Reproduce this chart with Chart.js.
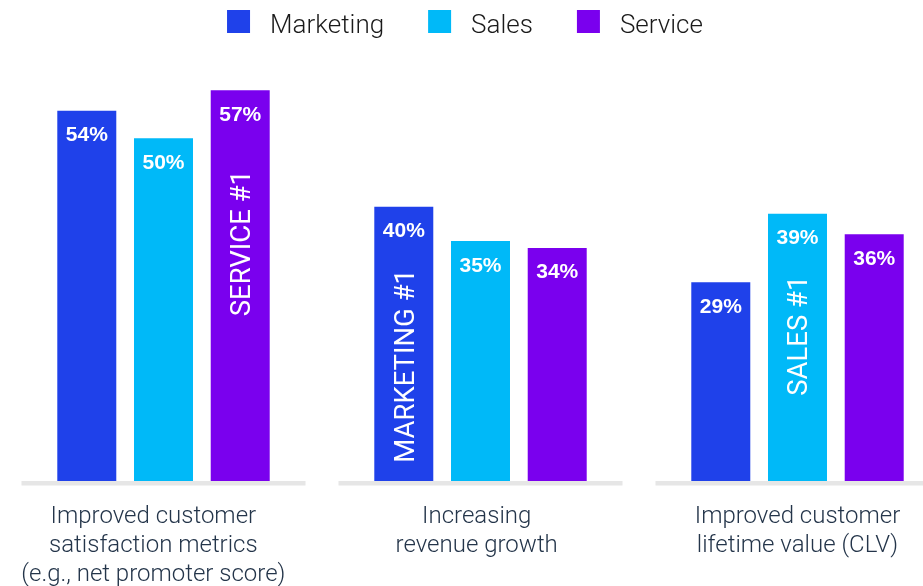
<!DOCTYPE html>
<html>
<head>
<meta charset="utf-8">
<title>Benefits by team</title>
<script src="https://cdn.jsdelivr.net/npm/chart.js@4.4.1/dist/chart.umd.min.js"></script>
<style>
  html, body { margin: 0; padding: 0; background: #fff; }
  #wrap { width: 923px; height: 586px; position: relative; }
</style>
</head>
<body>
<div id="wrap"><canvas id="benefitChart"></canvas></div>
<script>
// categories (multi-line labels) and one value list per team, in %
const categories = [
  ['Improved customer', 'satisfaction metrics', '(e.g., net promoter score)'],
  ['Increasing', 'revenue growth'],
  ['Improved customer', 'lifetime value (CLV)']
];
const seriesNames = ['Marketing', 'Sales', 'Service'];
const marketing = [54, 40, 29];
const sales = [50, 35, 39];
const service = [57, 34, 36];

const seriesValues = [marketing, sales, service];
const seriesColors = ['#1f41ea', '#00b9f8', '#7a00ee'];

// where the "#1" callout sits inside the leading bar (in % units)
const calloutMid = [34.7, 16.8, 21.2];
// small horizontal shift of each category label, in category units
const labelNudge = [-0.032, -0.012, 0];

const labelFont = '"Liberation Sans", Arial, sans-serif';

// grey baseline under each group
const baselines = {
  id: 'baselines',
  beforeDatasetsDraw(chart) {
    const { ctx, chartArea, scales } = chart;
    ctx.save();
    ctx.fillStyle = '#e6e6e6';
    categories.forEach((c, i) => {
      const a = scales.x.getPixelForValue(i - 0.448);
      const b = scales.x.getPixelForValue(i + 0.448);
      ctx.fillRect(a, chartArea.bottom, b - a, 4.5);
    });
    ctx.restore();
  }
};

// percentages at the top of each bar + rotated "#1" callouts
const barText = {
  id: 'barText',
  afterDatasetsDraw(chart) {
    const ctx = chart.ctx;
    ctx.save();
    ctx.fillStyle = '#ffffff';
    ctx.textAlign = 'center';
    ctx.textBaseline = 'alphabetic';
    ctx.font = 'bold 21px ' + labelFont;
    seriesValues.forEach((vals, s) => {
      chart.getDatasetMeta(s).data.forEach((bar, i) => {
        ctx.fillText(vals[i] + '%', bar.x, bar.y + 30.5);
      });
    });

    ctx.font = '27.5px Roboto, sans-serif';
    categories.forEach((c, i) => {
      const vals = seriesValues.map(v => v[i]);
      const s = vals.indexOf(Math.max(...vals));
      const bar = chart.getDatasetMeta(s).data[i];
      const y = chart.scales.y.getPixelForValue(calloutMid[i]);
      ctx.save();
      ctx.translate(bar.x, y);
      ctx.rotate(-Math.PI / 2);
      ctx.fillText(seriesNames[s].toUpperCase() + ' #1', 0, 9.8);
      ctx.restore();
    });
    ctx.restore();
  }
};

// legend row: square swatch + name
const legendRow = {
  id: 'legendRow',
  afterDraw(chart) {
    const { ctx, chartArea } = chart;
    const box = 23, textGap = 20, itemGap = 44;
    ctx.save();
    ctx.font = '300 26px Roboto, sans-serif';
    const widths = seriesNames.map(n => ctx.measureText(n).width);
    const total = widths.reduce((t, w) => t + box + textGap + w, 0) + itemGap * (seriesNames.length - 1);
    let x = (chartArea.left + chartArea.right) / 2 - total / 2;
    ctx.textAlign = 'left';
    ctx.textBaseline = 'alphabetic';
    seriesNames.forEach((name, s) => {
      ctx.fillStyle = seriesColors[s];
      ctx.fillRect(x, 10, box, 23);
      ctx.fillStyle = '#1a1a1a';
      ctx.fillText(name, x + box + textGap, 33);
      x += box + textGap + widths[s] + itemGap;
    });
    ctx.restore();
  }
};

new Chart(document.getElementById('benefitChart'), {
  type: 'bar',
  data: {
    datasets: seriesNames.map((name, s) => ({
      label: name,
      data: seriesValues[s].map((v, i) => ({ x: i, y: v })),
      backgroundColor: seriesColors[s],
      categoryPercentage: 0.726,
      barPercentage: 0.769
    }))
  },
  options: {
    responsive: true,
    maintainAspectRatio: false,
    animation: false,
    layout: { padding: { top: 56, left: 7, right: 0, bottom: 0 } },
    plugins: {
      legend: { display: false },
      tooltip: { enabled: false }
    },
    scales: {
      x: {
        type: 'linear',
        offset: false,
        min: -0.4937,
        max: 2.3959,
        grid: { display: false, drawTicks: false },
        border: { display: false },
        afterBuildTicks(scale) {
          scale.ticks = categories.map((c, i) => ({ value: i + labelNudge[i] }));
        },
        afterFit(scale) {
          // labels may hang past the plot edges; keep the plot full width
          scale.height = 105;
          scale.paddingLeft = 0;
          scale.paddingRight = 0;
        },
        ticks: {
          autoSkip: false,
          maxRotation: 0,
          padding: 21,
          color: '#24354a',
          font: { family: 'Roboto, sans-serif', size: 24, weight: '300', lineHeight: '29px' },
          callback: (v, i) => categories[i]
        }
      },
      y: {
        display: false,
        min: 0,
        max: 62.0
      }
    }
  },
  plugins: [baselines, barText, legendRow]
});
</script>
</body>
</html>
